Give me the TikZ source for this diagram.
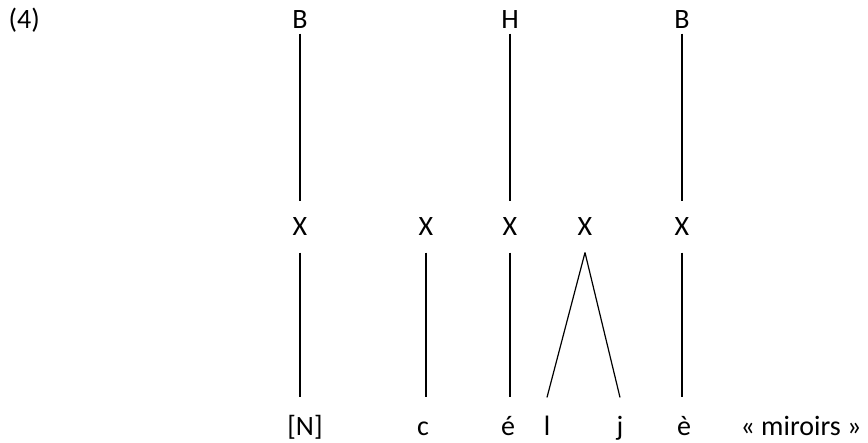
\documentclass[tikz,border=0pt]{standalone}
\usepackage{fontspec}
\setmainfont{Carlito}
\usepackage{tikz}

\begin{document}
\begin{tikzpicture}[x=1pt,y=-1pt,line width=1.2pt,
    font=\fontsize{28}{32}\selectfont]
    \tikzset{
        tier/.style={
            inner xsep=0pt,
            inner ysep=4pt,
            text height=18pt,
            text depth=0pt,
            anchor=base
        },
        slot/.style={
            inner sep=0pt,
            text height=18pt,
            text depth=0pt,
            minimum height=50pt
        },
        seg/.style={
            inner xsep=0pt,
            inner ysep=19pt,
            text height=19pt,
            text depth=5pt,
            anchor=base
        }
    }
    \useasboundingbox (0,0) rectangle (868,443);

    % example number
    \node[tier,anchor=base west] (num) at (8,29) {(4)};

    % tones
    \node[tier] (T1) at (300,29) {B};
    \node[tier] (T2) at (510,29) {H};
    \node[tier] (T3) at (682,29) {B};

    % skeleton
    \node[slot] (X1) at (300,227) {X};
    \node[slot] (X2) at (426,227) {X};
    \node[slot] (X3) at (510,227) {X};
    \node[slot] (X4) at (585,227) {X};
    \node[slot] (X5) at (682,227) {X};

    % segments
    \node[seg] (S1) at (305,436) {[N]};
    \node[seg] (S2) at (423,436) {c};
    \node[seg] (S3) at (508,436) {é};
    \node[seg] (S4) at (547,436) {l};
    \node[seg] (S5) at (620,436) {j};
    \node[seg] (S6) at (684,436) {è};
    \node[seg] (gloss) at (801,436) {« miroirs »};

    % tone association
    \draw (T1.south) -- (X1.north);
    \draw (T2.south) -- (X3.north);
    \draw (T3.south) -- (X5.north);

    % segment association
    \draw (X1.south) -- (X1.south |- S1.north);
    \draw (X2.south) -- (X2.south |- S2.north);
    \draw (X3.south) -- (X3.south |- S3.north);
    \draw (X4.south) -- (S4.north);
    \draw (X4.south) -- (S5.north);
    \draw (X5.south) -- (X5.south |- S6.north);
\end{tikzpicture}
\end{document}
